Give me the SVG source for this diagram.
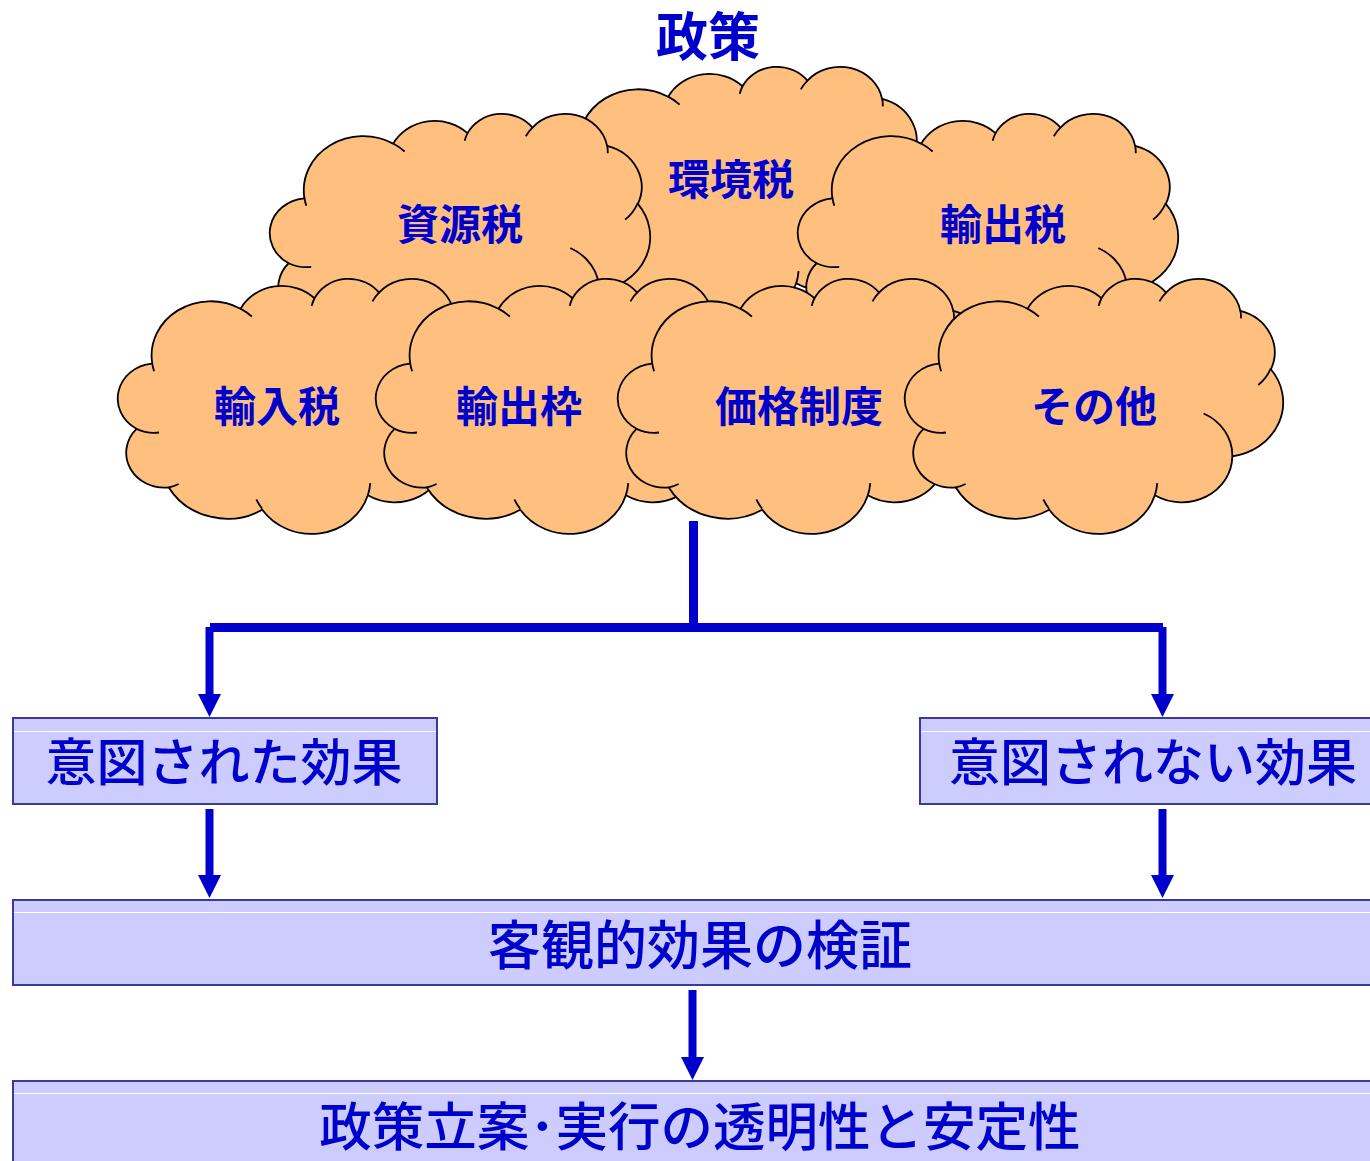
<svg xmlns="http://www.w3.org/2000/svg" xmlns:xlink="http://www.w3.org/1999/xlink" width="1370" height="1161" viewBox="0 0 1370 1161">
  <style>
    .cloud { fill: #ffbf7f; stroke: #000; stroke-width: 1.8; vector-effect: non-scaling-stroke; stroke-linejoin: round; }
    .crease { fill: none; stroke: #000; stroke-width: 1.8; vector-effect: non-scaling-stroke; }
    .label { font-family: "Noto Sans CJK JP", "Noto Sans", sans-serif; fill: #0000cc; text-anchor: middle; }
    .cl { font-size: 42px; font-weight: bold; }
    .title { font-size: 52px; font-weight: bold; }
    .bx { font-size: 51px; font-weight: 500; }
    .box { fill: #ccccff; stroke: #3a3a9c; stroke-width: 2; }
    .shine { stroke: #ffffff; stroke-width: 1.2; }
    .wire { fill: none; stroke: #0000cc; stroke-width: 9; }
    .arrow { fill: none; stroke: #0000cc; stroke-width: 8; marker-end: url(#head); }
  </style>
  <defs>
    <!-- cloud outline in a 1000 x 1000 box -->
    <path id="cloud-body" class="cloud" d="M 90.3 332.6 A 156.3 212.7 0 0 1 324.2 120.4 A 123.4 168.2 0 0 1 519.8 79.5 A 101.0 137.6 0 0 1 690.6 57.4 A 112.4 152.7 0 0 1 887.0 129.1 A 123.4 168.4 0 0 1 968.0 357.9 A 156.8 213.4 0 0 1 865.9 699.2 A 133.9 182.1 0 0 1 661.0 852.2 A 156.3 213.3 0 0 1 381.6 909.1 A 178.7 244.1 0 0 1 134.4 821.2 A 100.9 137.0 0 0 1 49.0 591.5 A 100.6 137.6 0 0 1 89.5 335.9 Z"/>
    <!-- short inner arcs where the lobes meet -->
    <path id="cloud-creases" class="crease" d="M 108.6 605.9 A 100.6 137.6 0 0 1 49.0 591.5 M 160.4 807.9 A 100.9 137.0 0 0 1 134.4 821.2 M 381.4 904.9 A 156.3 213.3 0 0 1 366.0 868.7 M 667.3 804.4 A 156.3 213.3 0 0 1 661.0 852.2 M 790.0 531.3 A 133.9 182.1 0 0 1 865.9 699.2 M 967.5 355.4 A 123.4 168.4 0 0 1 934.5 419.8 M 887.1 125.6 A 112.4 152.7 0 0 1 888.8 158.3 M 673.1 91.5 A 112.4 152.7 0 0 1 690.6 57.4 M 512.5 109.3 A 101.0 137.6 0 0 1 519.8 79.5 M 324.1 120.2 A 156.3 212.7 0 0 1 354.3 151.7 M 95.5 365.5 A 156.3 212.7 0 0 1 90.3 332.6"/>
    <marker id="head" markerUnits="userSpaceOnUse" markerWidth="24" markerHeight="24" viewBox="0 0 24 24" refX="0" refY="12" orient="auto">
      <path d="M0,0.5 L23,12 L0,23.5 Z" fill="#0000cc"/>
    </marker>
  </defs>

  <text id="title" class="label title" x="708" y="56">政策</text>

  <!-- back row of clouds -->
  <g id="cloud-kankyo">
    <g transform="translate(545,66) scale(0.38,0.255)"><use href="#cloud-body"/><use href="#cloud-creases"/></g>
    <text class="label cl" x="731" y="195">環境税</text>
  </g>
  <g id="cloud-shigen">
    <g transform="translate(270,113) scale(0.38,0.254)"><use href="#cloud-body"/><use href="#cloud-creases"/></g>
    <text class="label cl" x="460" y="240">資源税</text>
  </g>
  <g id="cloud-yushutsuzei">
    <g transform="translate(798,113) scale(0.38,0.254)"><use href="#cloud-body"/><use href="#cloud-creases"/></g>
    <text class="label cl" x="1003" y="240">輸出税</text>
  </g>

  <!-- front row of clouds -->
  <g id="cloud-yunyu">
    <g transform="translate(118,278) scale(0.378,0.255)"><use href="#cloud-body"/><use href="#cloud-creases"/></g>
    <text class="label cl" x="277" y="422">輸入税</text>
  </g>
  <g id="cloud-waku">
    <g transform="translate(376,278) scale(0.378,0.255)"><use href="#cloud-body"/><use href="#cloud-creases"/></g>
    <text class="label cl" x="519" y="422">輸出枠</text>
  </g>
  <g id="cloud-kakaku">
    <g transform="translate(618,278) scale(0.378,0.255)"><use href="#cloud-body"/><use href="#cloud-creases"/></g>
    <text class="label cl" x="799" y="422">価格制度</text>
  </g>
  <g id="cloud-sonota">
    <g transform="translate(905,278) scale(0.378,0.255)"><use href="#cloud-body"/><use href="#cloud-creases"/></g>
    <text class="label cl" x="1094" y="422">その他</text>
  </g>

  <!-- connectors -->
  <g id="connectors">
    <line class="wire" x1="693.5" y1="521" x2="693.5" y2="627.5"/>
    <line class="wire" x1="210" y1="627.5" x2="1163" y2="627.5"/>
    <line class="arrow" x1="209.5" y1="627" x2="209.5" y2="694"/>
    <line class="arrow" x1="1162.5" y1="627" x2="1162.5" y2="694"/>
    <line class="arrow" x1="209.5" y1="809" x2="209.5" y2="875"/>
    <line class="arrow" x1="1162.5" y1="809" x2="1162.5" y2="875"/>
    <line class="arrow" x1="692.5" y1="990" x2="692.5" y2="1057"/>
  </g>

  <!-- result boxes -->
  <g id="box-intended">
    <rect class="box" x="13" y="718" width="424" height="86"/>
    <line class="shine" x1="14" y1="731.5" x2="436" y2="731.5"/>
    <text class="label bx" x="224" y="781">意図された効果</text>
  </g>
  <g id="box-unintended">
    <rect class="box" x="920" y="718" width="470" height="86"/>
    <line class="shine" x1="921" y1="731.5" x2="1370" y2="731.5"/>
    <text class="label bx" x="1153" y="781">意図されない効果</text>
  </g>
  <g id="box-verify">
    <rect class="box" x="13" y="900" width="1380" height="85"/>
    <line class="shine" x1="14" y1="912.5" x2="1370" y2="912.5"/>
    <text class="label bx" x="700" y="965" style="font-size:53px">客観的効果の検証</text>
  </g>
  <g id="box-transparency">
    <rect class="box" x="13" y="1081" width="1380" height="100"/>
    <line class="shine" x1="14" y1="1093.5" x2="1370" y2="1093.5"/>
    <text class="label bx" x="700" y="1146" style="font-size:52.5px">政策立案･実行の透明性と安定性</text>
  </g>
</svg>
